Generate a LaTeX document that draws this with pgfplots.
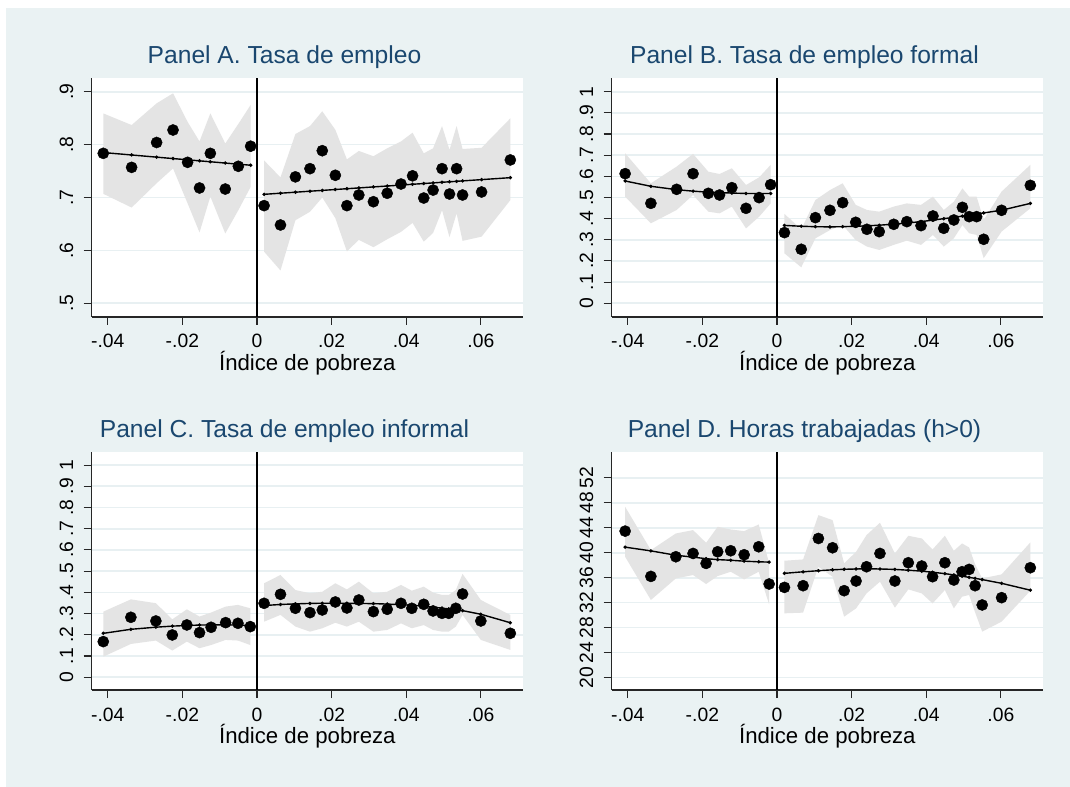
\documentclass[border=0pt]{standalone}
\usepackage{fontspec}
\setmainfont{Liberation Sans}
\usepackage{pgfplots}
\usepackage{pgfplotstable}
\pgfplotsset{compat=1.18}
\definecolor{bgc}{RGB}{234,242,243}
\definecolor{gridc}{RGB}{232,240,242}
\definecolor{bandc}{RGB}{228,228,228}
\definecolor{navy}{RGB}{26,71,111}
\newcommand\tickfont{\fontsize{19.3bp}{22bp}\selectfont}
\newcommand\labfont{\fontsize{22.2bp}{26bp}\selectfont}
\newcommand\titfont{\fontsize{24.6bp}{28bp}\selectfont}

% bin means (y) and fitted values (fit)
\pgfplotstableread{
x y fit
-0.0412 0.7835 0.7850
-0.0336 0.7570 0.7804
-0.0269 0.8040 0.7763
-0.0225 0.8276 0.7736
-0.0186 0.7665 0.7713
-0.0154 0.7180 0.7693
-0.0125 0.7835 0.7676
-0.0085 0.7160 0.7651
-0.0050 0.7590 0.7630
-0.0017 0.7970 0.7610
}\tAl
\pgfplotstableread{
x y fit
0.0019 0.6846 0.7060
0.0063 0.6480 0.7081
0.0103 0.7390 0.7100
0.0142 0.7545 0.7119
0.0175 0.7885 0.7134
0.0210 0.7420 0.7151
0.0241 0.6846 0.7166
0.0273 0.7047 0.7181
0.0312 0.6920 0.7200
0.0349 0.7080 0.7217
0.0386 0.7255 0.7235
0.0417 0.7410 0.7250
0.0447 0.6990 0.7264
0.0472 0.7140 0.7276
0.0496 0.7545 0.7288
0.0516 0.7066 0.7297
0.0535 0.7545 0.7306
0.0551 0.7047 0.7314
0.0602 0.7104 0.7338
0.0679 0.7710 0.7375
}\tAr
\pgfplotstableread{
x y fit
-0.0407 0.6126 0.578
-0.0338 0.4724 0.553
-0.0269 0.5386 0.537
-0.0225 0.6126 0.530
-0.0184 0.5197 0.525
-0.0154 0.5118 0.523
-0.0121 0.5465 0.521
-0.0083 0.4488 0.519
-0.0048 0.4992 0.519
-0.0017 0.5606 0.519
}\tBl
\pgfplotstableread{
x y fit
0.0020 0.3339 0.368
0.0065 0.2551 0.364
0.0103 0.4047 0.362
0.0142 0.4394 0.361
0.0176 0.4756 0.362
0.0211 0.3827 0.364
0.0241 0.3496 0.366
0.0274 0.3386 0.369
0.0313 0.3732 0.374
0.0348 0.3858 0.379
0.0386 0.3669 0.386
0.0418 0.4126 0.393
0.0447 0.3543 0.400
0.0474 0.3937 0.406
0.0497 0.4535 0.412
0.0515 0.4094 0.417
0.0535 0.4094 0.422
0.0554 0.3024 0.427
0.0602 0.4394 0.440
0.0679 0.5575 0.472
}\tBr
\pgfplotstableread{
x y fit
-0.0412 0.1680 0.207
-0.0338 0.2826 0.226
-0.0271 0.2653 0.236
-0.0227 0.1994 0.241
-0.0188 0.2465 0.244
-0.0154 0.2104 0.246
-0.0123 0.2355 0.247
-0.0084 0.2575 0.247
-0.0051 0.2543 0.246
-0.0018 0.2386 0.244
}\tCl
\pgfplotstableread{
x y fit
0.0019 0.3485 0.338
0.0063 0.3909 0.343
0.0103 0.3250 0.346
0.0142 0.3046 0.348
0.0175 0.3171 0.349
0.0210 0.3548 0.349
0.0241 0.3265 0.349
0.0273 0.3642 0.348
0.0312 0.3093 0.347
0.0349 0.3203 0.345
0.0386 0.3485 0.342
0.0415 0.3250 0.339
0.0447 0.3438 0.335
0.0472 0.3124 0.330
0.0496 0.3014 0.326
0.0514 0.3014 0.322
0.0533 0.3250 0.318
0.0551 0.3925 0.314
0.0600 0.2653 0.297
0.0679 0.2072 0.257
}\tCr
\pgfplotstableread{
x y fit
-0.0407 43.47 40.90
-0.0338 36.21 40.30
-0.0271 39.36 39.60
-0.0225 39.89 39.30
-0.0190 38.29 39.05
-0.0159 40.16 38.90
-0.0124 40.32 38.80
-0.0088 39.68 38.65
-0.0049 40.96 38.55
-0.0021 34.99 38.50
}\tDl
\pgfplotstableread{
x y fit
0.0020 34.45 36.70
0.0070 34.72 36.95
0.0111 42.29 37.12
0.0149 40.80 37.27
0.0180 33.92 37.35
0.0212 35.47 37.40
0.0240 37.76 37.42
0.0276 39.89 37.40
0.0316 35.47 37.33
0.0352 38.40 37.20
0.0388 37.87 37.05
0.0417 36.16 36.88
0.0450 38.40 36.65
0.0474 35.63 36.45
0.0496 36.96 36.25
0.0515 37.33 36.05
0.0531 34.72 35.90
0.0550 31.63 35.70
0.0602 32.80 35.10
0.0679 37.60 34.00
}\tDr

\pgfplotsset{
  panel/.style={
    scale only axis, width=431.3bp, anchor=south west,
    xmin=-0.0443, xmax=0.0713,
    scaled x ticks=false, scaled y ticks=false,
    axis x line*=bottom, axis y line*=left,
    axis line style={-, line width=1.1bp, black!85},
    xtick={-0.04,-0.02,0,0.02,0.04,0.06},
    xticklabels={-.04,-.02,0,.02,.04,.06},
    tick align=outside, major tick length=8bp,
    tick style={line width=1.1bp, black!85},
    ymajorgrids, grid style={line width=1.6bp, gridc},
    axis background/.style={fill=white},
    xticklabel style={font=\tickfont, anchor=base, yshift=-23bp},
    yticklabel style={font=\tickfont, rotate=90, anchor=base, yshift=10.6bp},
    xlabel={Índice de pobreza},
    xlabel style={font=\labfont, at={(axis description cs:0.5,0)}, anchor=base, yshift=-53.5bp},
    title style={font=\titfont, text=navy, at={(axis description cs:0.447,1)}, anchor=base, yshift=8.5bp},
  },
  band/.style={fill=bandc, draw=none},
  fitl/.style={black, line width=1.4bp, mark=*, mark size=0.9bp},
  pts/.style={only marks, mark=*, mark size=5.6bp, black},
  zline/.style={black, line width=1.6bp},
}

\begin{document}
\begin{tikzpicture}
\fill[white] (0,0) rectangle (1070bp,787bp);
\fill[bgc] (6bp,0) rectangle (1070bp,779bp);

% Panel A
\begin{axis}[panel, at={(91.7bp,470bp)}, height=239bp,
  ymin=0.474, ymax=0.926, ytick={0.5,0.6,0.7,0.8,0.9},
  yticklabels={.5,.6,.7,.8,.9}, title={Panel A. Tasa de empleo}]
\addplot[band] coordinates {(-0.0412,0.859) (-0.0336,0.837) (-0.0269,0.878) (-0.0225,0.897) (-0.0186,0.843) (-0.0154,0.806) (-0.0125,0.859) (-0.0085,0.802) (-0.0050,0.839) (-0.0017,0.875)
 (-0.0017,0.720) (-0.0050,0.676) (-0.0085,0.632) (-0.0125,0.702) (-0.0154,0.634) (-0.0186,0.689) (-0.0225,0.755) (-0.0269,0.727) (-0.0336,0.681) (-0.0412,0.707)} --cycle;
\addplot[band] coordinates {(0.0019,0.7700) (0.0063,0.7380) (0.0103,0.8200) (0.0142,0.8350) (0.0175,0.8630) (0.0210,0.8280) (0.0241,0.7720) (0.0273,0.7880) (0.0312,0.7780) (0.0349,0.7930) (0.0386,0.8060) (0.0417,0.8225) (0.0447,0.7835) (0.0472,0.7930) (0.0496,0.8350) (0.0516,0.7900) (0.0535,0.8350) (0.0551,0.7917) (0.0602,0.7940) (0.0679,0.8496)
 (0.0679,0.6950) (0.0602,0.6260) (0.0551,0.6180) (0.0535,0.6700) (0.0516,0.6250) (0.0496,0.6760) (0.0472,0.6330) (0.0447,0.6165) (0.0417,0.6520) (0.0386,0.6350) (0.0349,0.6210) (0.0312,0.6060) (0.0273,0.6200) (0.0241,0.5980) (0.0210,0.6610) (0.0175,0.7000) (0.0142,0.6730) (0.0103,0.6570) (0.0063,0.5620) (0.0019,0.5976)} --cycle;
\addplot[zline] coordinates {(0,0.474) (0,0.926)};
\addplot[fitl] table[x=x,y=fit]{\tAl};
\addplot[fitl] table[x=x,y=fit]{\tAr};
\addplot[pts] table[x=x,y=y]{\tAl};
\addplot[pts] table[x=x,y=y]{\tAr};
\end{axis}

% Panel B
\begin{axis}[panel, at={(611.7bp,470bp)}, height=239bp,
  ymin=-0.065, ymax=1.065, ytick={0,0.1,0.2,0.3,0.4,0.5,0.6,0.7,0.8,0.9,1},
  yticklabels={0,.1,.2,.3,.4,.5,.6,.7,.8,.9,1}, title={Panel B. Tasa de empleo formal}]
\addplot[band] coordinates {(-0.0407,0.709) (-0.0338,0.567) (-0.0269,0.646) (-0.0225,0.706) (-0.0184,0.622) (-0.0154,0.611) (-0.0121,0.638) (-0.0083,0.559) (-0.0048,0.595) (-0.0017,0.654)
 (-0.0017,0.472) (-0.0048,0.409) (-0.0083,0.354) (-0.0121,0.457) (-0.0154,0.425) (-0.0184,0.433) (-0.0225,0.512) (-0.0269,0.441) (-0.0338,0.378) (-0.0407,0.504)} --cycle;
\addplot[band] coordinates {(0.0020,0.422) (0.0065,0.350) (0.0103,0.488) (0.0142,0.535) (0.0176,0.567) (0.0211,0.465) (0.0241,0.441) (0.0274,0.433) (0.0313,0.457) (0.0348,0.472) (0.0386,0.465) (0.0418,0.504) (0.0447,0.441) (0.0474,0.480) (0.0497,0.543) (0.0515,0.504) (0.0535,0.504) (0.0554,0.394) (0.0602,0.528) (0.0679,0.654)
 (0.0679,0.449) (0.0602,0.339) (0.0554,0.213) (0.0535,0.323) (0.0515,0.331) (0.0497,0.370) (0.0474,0.307) (0.0447,0.268) (0.0418,0.323) (0.0386,0.276) (0.0348,0.296) (0.0313,0.276) (0.0274,0.252) (0.0241,0.268) (0.0211,0.299) (0.0176,0.370) (0.0142,0.346) (0.0103,0.307) (0.0065,0.170) (0.0020,0.236)} --cycle;
\addplot[zline] coordinates {(0,-0.065) (0,1.065)};
\addplot[fitl] table[x=x,y=fit]{\tBl};
\addplot[fitl] table[x=x,y=fit]{\tBr};
\addplot[pts] table[x=x,y=y]{\tBl};
\addplot[pts] table[x=x,y=y]{\tBr};
\end{axis}

% Panel C
\begin{axis}[panel, at={(91.7bp,97bp)}, height=238.3bp,
  ymin=-0.06, ymax=1.063, ytick={0,0.1,0.2,0.3,0.4,0.5,0.6,0.7,0.8,0.9,1},
  yticklabels={0,.1,.2,.3,.4,.5,.6,.7,.8,.9,1}, title={Panel C. Tasa de empleo informal}]
\addplot[band] coordinates {(-0.0412,0.309) (-0.0338,0.367) (-0.0271,0.349) (-0.0227,0.273) (-0.0188,0.320) (-0.0154,0.286) (-0.0123,0.305) (-0.0084,0.333) (-0.0051,0.341) (-0.0018,0.325)
 (-0.0018,0.152) (-0.0051,0.173) (-0.0084,0.176) (-0.0123,0.152) (-0.0154,0.137) (-0.0188,0.168) (-0.0227,0.126) (-0.0271,0.173) (-0.0338,0.157) (-0.0412,0.097)} --cycle;
\addplot[band] coordinates {(0.0019,0.443) (0.0063,0.482) (0.0103,0.411) (0.0142,0.396) (0.0175,0.403) (0.0210,0.443) (0.0241,0.414) (0.0273,0.4505) (0.0312,0.396) (0.0349,0.403) (0.0386,0.435) (0.0415,0.408) (0.0447,0.427) (0.0472,0.399) (0.0496,0.388) (0.0514,0.388) (0.0533,0.411) (0.0551,0.487) (0.0600,0.364) (0.0679,0.2936)
 (0.0679,0.129) (0.0600,0.176) (0.0551,0.294) (0.0533,0.239) (0.0514,0.215) (0.0496,0.215) (0.0472,0.223) (0.0447,0.246) (0.0415,0.231) (0.0386,0.254) (0.0349,0.223) (0.0312,0.215) (0.0273,0.262) (0.0241,0.239) (0.0210,0.257) (0.0175,0.231) (0.0142,0.215) (0.0103,0.239) (0.0063,0.294) (0.0019,0.262)} --cycle;
\addplot[zline] coordinates {(0,-0.06) (0,1.063)};
\addplot[fitl] table[x=x,y=fit]{\tCl};
\addplot[fitl] table[x=x,y=fit]{\tCr};
\addplot[pts] table[x=x,y=y]{\tCl};
\addplot[pts] table[x=x,y=y]{\tCr};
\end{axis}

% Panel D
\begin{axis}[panel, at={(611.7bp,97bp)}, height=238.3bp,
  ymin=18.0, ymax=56.2, ytick={20,24,28,32,36,40,44,48,52},
  yticklabels={20,24,28,32,36,40,44,48,52}, title={Panel D. Horas trabajadas (h>0)}]
\addplot[band] coordinates {(-0.0407,47.36) (-0.0338,40.43) (-0.0271,43.09) (-0.0225,43.63) (-0.0190,41.60) (-0.0159,44.16) (-0.0124,43.73) (-0.0088,43.47) (-0.0049,44.53) (-0.0021,38.30)
 (-0.0021,31.73) (-0.0049,36.96) (-0.0088,35.73) (-0.0124,36.96) (-0.0159,36.27) (-0.0190,34.99) (-0.0225,36.43) (-0.0271,35.89) (-0.0338,32.43) (-0.0407,39.36)} --cycle;
\addplot[band] coordinates {(0.0020,38.72) (0.0070,38.93) (0.0111,46.03) (0.0149,45.23) (0.0180,38.29) (0.0212,40.16) (0.0240,42.83) (0.0276,44.80) (0.0316,39.89) (0.0352,42.72) (0.0388,42.29) (0.0417,40.53) (0.0450,42.72) (0.0474,40.32) (0.0496,41.49) (0.0515,40.85) (0.0531,38.13) (0.0550,35.89) (0.0602,36.53) (0.0679,41.65)
 (0.0679,33.92) (0.0602,28.96) (0.0550,27.36) (0.0531,30.45) (0.0515,33.23) (0.0496,32.96) (0.0474,31.09) (0.0450,34.03) (0.0417,31.89) (0.0388,33.49) (0.0352,34.13) (0.0316,31.20) (0.0276,35.36) (0.0240,33.49) (0.0212,31.09) (0.0180,29.76) (0.0149,36.16) (0.0111,37.76) (0.0070,30.40) (0.0020,30.29)} --cycle;
\addplot[zline] coordinates {(0,18.0) (0,56.2)};
\addplot[fitl] table[x=x,y=fit]{\tDl};
\addplot[fitl] table[x=x,y=fit]{\tDr};
\addplot[pts] table[x=x,y=y]{\tDl};
\addplot[pts] table[x=x,y=y]{\tDr};
\end{axis}
\end{tikzpicture}
\end{document}
